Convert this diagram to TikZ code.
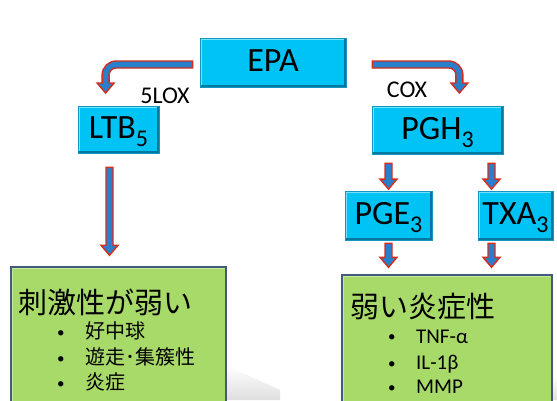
\documentclass[tikz,border=0pt]{standalone}
\usepackage{fontspec}
\setmainfont{Carlito}
\newfontfamily\jp{Noto Sans CJK JP}
\usetikzlibrary{calc}
\definecolor{cyfill}{RGB}{0,195,245}
\definecolor{cyedge}{RGB}{20,150,195}
\definecolor{cylight}{RGB}{120,225,255}
\definecolor{cydark}{RGB}{0,120,160}
\definecolor{grfill}{RGB}{168,218,106}
\definecolor{gredge}{RGB}{65,90,125}
\definecolor{grlight}{RGB}{195,235,150}
\definecolor{arblue}{RGB}{40,128,205}
\definecolor{arred}{RGB}{215,45,30}
\tikzset{
  cbox/.style={fill=cyfill, draw=cyedge, line width=0.8pt, inner sep=0pt,
    font=\fontsize{34}{34}\selectfont, text height=22pt, text depth=4pt,
    path picture={
      \draw[cylight, line width=1.6pt]
        ($(path picture bounding box.south west)+(1.2pt,1.2pt)$) --
        ($(path picture bounding box.north west)+(1.2pt,-1.2pt)$) --
        ($(path picture bounding box.north east)+(-1.2pt,-1.2pt)$);
      \draw[cydark, line width=1.6pt]
        ($(path picture bounding box.south west)+(1.2pt,1.2pt)$) --
        ($(path picture bounding box.south east)+(-1.2pt,1.2pt)$) --
        ($(path picture bounding box.north east)+(-1.2pt,-1.2pt)$);
    }},
  gbox/.style={fill=grfill, draw=gredge, line width=1.4pt, inner sep=0pt,
    path picture={
      \draw[grlight, line width=1.4pt]
        ($(path picture bounding box.south west)+(1.4pt,1.4pt)$) --
        ($(path picture bounding box.north west)+(1.4pt,-1.4pt)$) --
        ($(path picture bounding box.north east)+(-1.4pt,-1.4pt)$);
    }},
  barrow/.style={fill=arblue, draw=arred, line width=1.4pt, line join=miter},
  enz/.style={font=\fontsize{24}{24}\selectfont, inner sep=0pt},
  head/.style={font=\jp\fontsize{29}{29}\selectfont, anchor=base west, inner sep=0pt},
  item/.style={font=\fontsize{21}{21}\selectfont, anchor=base west, inner sep=0pt},
}
\newcommand\subs[1]{\raisebox{-8pt}{\fontsize{24}{24}\selectfont #1}}
\newcommand\bul{\makebox[28pt][l]{\fontsize{15}{15}\selectfont\raisebox{1.5pt}{•}}}
\newcommand\blockdown[2]{%
  \path[barrow] let \p1=(#1), \p2=(#2) in
    (\x1-3.5pt,\y1) -- (\x1+3.5pt,\y1) -- (\x1+3.5pt,\y2+10pt) --
    (\x1+8.5pt,\y2+10pt) -- (\x1,\y2) -- (\x1-8.5pt,\y2+10pt) --
    (\x1-3.5pt,\y2+10pt) -- cycle;}
\begin{document}
\begin{tikzpicture}[x=1pt,y=-1pt]
\useasboundingbox (0,0) rectangle (557,400);
\clip (0,0) rectangle (557,400);
\fill[white] (0,0) rectangle (557,400);

% shadows of green boxes
\shade[top color=white, bottom color=black!13] (227,366) -- (280,390) -- (280,400) -- (227,400) -- cycle;
\shade[top color=white, bottom color=black!12] (553,376) -- (557,378) -- (557,400) -- (553,400) -- cycle;

% boxes
\node[cbox, minimum width=146pt, minimum height=49pt] (epa) at (273,62.5) {EPA};
\node[cbox, minimum width=81pt, minimum height=47pt] (ltb) at (118.5,129.5) {LTB\subs{5}};
\node[cbox, minimum width=131pt, minimum height=48pt] (pgh) at (437.5,130) {PGH\subs{3}};
\node[cbox, minimum width=87pt, minimum height=49pt] (pge) at (388.5,215.5) {PGE\subs{3}};
\node[cbox, minimum width=75pt, minimum height=49pt] (txa) at (515.5,215.5) {TXA\subs{3}};

\node[gbox, minimum width=215pt, minimum height=153pt] (lg) at (118.5,343.5) {};
\node[gbox, minimum width=210pt, minimum height=145pt] (rg) at (447,347.5) {};

% enzyme labels
\node[enz] (lox) at (165,96) {5LOX};
\node[enz] (cox) at (407,89.5) {COX};

% bent arrows from EPA
\begin{scope}[shift={(epa.west)}]
\path[barrow] (-7,-1.5) -- (-83.5,-1.5) .. controls (-91.2,-1.5) and (-97.5,4.8) .. (-97.5,12.5)
  -- (-97.5,20.5) -- (-102.5,20.5) -- (-94,30.5) -- (-85.5,20.5) -- (-90.5,20.5) -- (-90.5,12.5)
  .. controls (-90.5,8.6) and (-87.4,5.5) .. (-83.5,5.5) -- (-7,5.5) -- cycle;
\end{scope}
\begin{scope}[shift={(epa.east)}]
\path[barrow] (26,-1.5) -- (102.5,-1.5) .. controls (110.2,-1.5) and (116.5,4.8) .. (116.5,12.5)
  -- (116.5,20.5) -- (121.5,20.5) -- (113,30.5) -- (104.5,20.5) -- (109.5,20.5) -- (109.5,12.5)
  .. controls (109.5,8.6) and (106.4,5.5) .. (102.5,5.5) -- (26,5.5) -- cycle;
\end{scope}

% straight arrows
\coordinate (a1s) at ($(ltb.south)+(-9,14)$);
\coordinate (a1e) at ($(lg.north)+(-9,-11)$);
\blockdown{a1s}{a1e}
\coordinate (a2s) at ($(pge.north |- pgh.south)+(0,9)$);
\coordinate (a2e) at ($(pge.north)+(0,-1.5)$);
\blockdown{a2s}{a2e}
\coordinate (a3s) at ($(pgh.south)+(54,9)$);
\coordinate (a3e) at ($(txa.north)+(-24,-1.5)$);
\blockdown{a3s}{a3e}
\coordinate (a4s) at ($(pge.south)+(0,3)$);
\coordinate (a4e) at ($(rg.north)+(-58.5,-7)$);
\blockdown{a4s}{a4e}
\coordinate (a5s) at ($(txa.south)+(-24,3)$);
\coordinate (a5e) at ($(rg.north)+(44.5,-7)$);
\blockdown{a5s}{a5e}

% texts in green boxes
\node[head] (lh) at (18.5,313) {刺激性が弱い};
\node[item] (l1) at (57,338.6) {\bul\jp\fontsize{20}{20}\selectfont 好中球};
\node[item] (l2) at (57,364.6) {\bul\jp\fontsize{20}{20}\selectfont 遊走･集簇性};
\node[item] (l3) at (57,389.6) {\bul\jp\fontsize{20}{20}\selectfont 炎症};

\node[head] (rh) at (350.5,317) {弱い炎症性};
\node[item] (r1) at (388,343) {\bul TNF-α};
\node[item] (r2) at (388,369.5) {\bul IL-1β};
\node[item] (r3) at (388,393.5) {\bul MMP};
\end{tikzpicture}
\end{document}
